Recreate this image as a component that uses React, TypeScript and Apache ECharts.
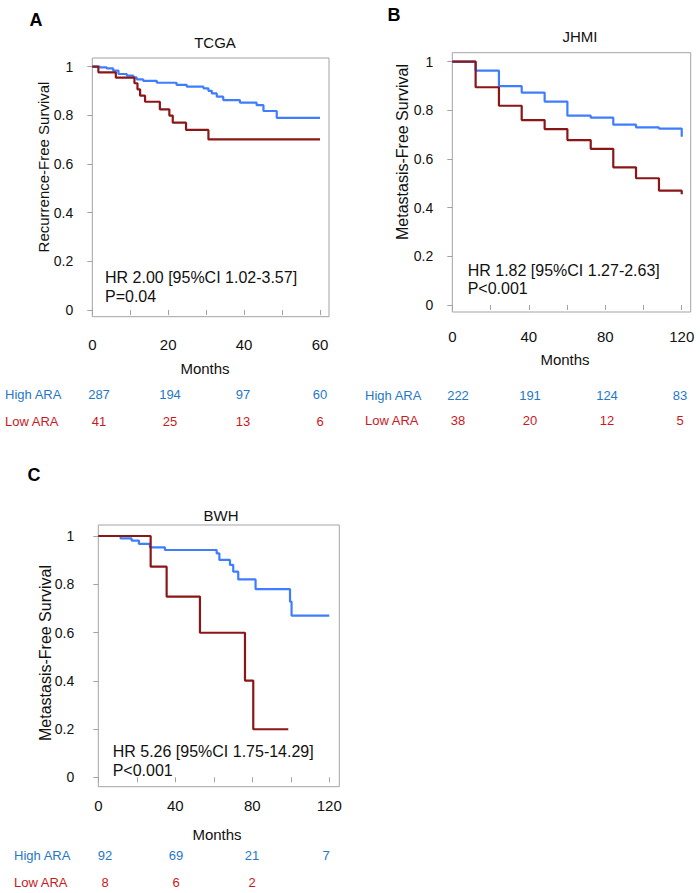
import React, { useEffect, useRef } from "react";
import * as echarts from "echarts";

// ---- data: [months, survival] step points ----
const tcgaHigh: [number, number][] = [[0, 1], [2, 0.997], [3.8, 0.993], [5.5, 0.984], [6.9, 0.97], [9.1, 0.963], [10.8, 0.956], [11.7, 0.948], [13.4, 0.942], [17, 0.934], [22.2, 0.925], [24.9, 0.918], [29.3, 0.911], [30.6, 0.901], [31.5, 0.89], [32.8, 0.877], [34.5, 0.863], [38.9, 0.852], [43.3, 0.842], [45.1, 0.818], [48.6, 0.79], [60, 0.79]];
const tcgaLow: [number, number][] = [[0, 1], [1.6, 0.977], [6.2, 0.955], [11.1, 0.932], [11.9, 0.907], [12.6, 0.881], [13.9, 0.856], [17.8, 0.825], [20.3, 0.799], [21.2, 0.77], [24.7, 0.74], [30.6, 0.701], [60, 0.701]];
const jhmiHigh: [number, number][] = [[0, 1], [12.2, 0.963], [24.4, 0.9], [36.3, 0.873], [48.3, 0.836], [60.2, 0.778], [72.4, 0.77], [84.2, 0.741], [96.1, 0.73], [108.1, 0.725], [120, 0.692]];
const jhmiLow: [number, number][] = [[0, 1], [12.2, 0.895], [24.4, 0.819], [36.3, 0.76], [48.3, 0.723], [60.2, 0.678], [72.4, 0.642], [84.2, 0.566], [96.1, 0.521], [108.1, 0.47], [120, 0.455]];
const bwhHigh: [number, number][] = [[0, 1], [11.6, 0.99], [17.3, 0.981], [21.1, 0.967], [26.8, 0.953], [34.6, 0.942], [61.5, 0.928], [62.9, 0.901], [68.4, 0.88], [70.1, 0.852], [72.7, 0.82], [81.7, 0.78], [99.6, 0.728], [100.4, 0.67], [120, 0.67]];
const bwhLow: [number, number][] = [[0, 1], [27.2, 0.873], [35.5, 0.749], [52.8, 0.599], [76.2, 0.401], [80.5, 0.199], [98.7, 0.199]];

const yTicks = [0, 0.2, 0.4, 0.6, 0.8, 1];
const tcgaXTicks = [0, 10, 20, 30, 40, 50, 60];
const tcgaXLabels = [0, 20, 40, 60];
const longXTicks = [0, 20, 40, 60, 80, 100, 120];
const longXLabels = [0, 40, 80, 120];

const tcgaRiskHigh = [287, 194, 97, 60];
const tcgaRiskLow = [41, 25, 13, 6];
const jhmiRiskHigh = [222, 191, 124, 83];
const jhmiRiskLow = [38, 20, 12, 5];
const bwhRiskHigh = [92, 69, 21, 7];
const bwhRiskLow = [8, 6, 2];

const titles = ["TCGA", "JHMI", "BWH"];
const letters = ["A", "B", "C"];
const yNames = ["Recurrence-Free Survival", "Metastasis-Free Survival", "Metastasis-Free Survival"];
const hrLines = [
  ["HR 2.00 [95%CI 1.02-3.57]", "P=0.04"],
  ["HR 1.82 [95%CI 1.27-2.63]", "P<0.001"],
  ["HR 5.26 [95%CI 1.75-14.29]", "P<0.001"],
];

// ---- styling / layout ----
const FONT = "'Liberation Sans', Arial, sans-serif";
const BLUE = "#3f7dff";
const RED = "#8b1616";
const TBLUE = "#1f78c8";
const TRED = "#c8191e";
const GRAY = "#a3a3a3";

const panels = [
  {
    grid: { left: 92.3, top: 58, width: 236.7, height: 258.7 },
    xMax: 62.37, yMin: -0.0275, yMax: 1.0358,
    xTicks: tcgaXTicks, xLabels: tcgaXLabels, xMargin: 20, yMargin: 19,
    high: tcgaHigh, low: tcgaLow,
    letter: [36, 20], title: [215, 42], yName: [43, 167, 15], hr: [105, 277, 19.7],
    months: [205, 368], riskX: [99, 170, 243, 320], riskLabelX: 5, riskY: [394, 421],
    riskHigh: tcgaRiskHigh, riskLow: tcgaRiskLow,
  },
  {
    grid: { left: 452.3, top: 52.7, width: 238.4, height: 259.3 },
    xMax: 124.7, yMin: -0.0288, yMax: 1.037,
    xTicks: longXTicks, xLabels: longXLabels, xMargin: 17, yMargin: 19,
    high: jhmiHigh, low: jhmiLow,
    letter: [394, 15], title: [580, 36], yName: [402, 152, 16], hr: [467.7, 270, 18.5],
    months: [565, 359], riskX: [458, 530, 607, 680], riskLabelX: 365, riskY: [395, 420],
    riskHigh: jhmiRiskHigh, riskLow: jhmiRiskLow,
  },
  {
    grid: { left: 98.3, top: 525, width: 241, height: 261.7 },
    xMax: 125.2, yMin: -0.039, yMax: 1.0456,
    xTicks: longXTicks, xLabels: longXLabels, xMargin: 11, yMargin: 24,
    high: bwhHigh, low: bwhLow,
    letter: [34, 475], title: [221, 515], yName: [45, 653, 16], hr: [112.7, 751, 19],
    months: [217, 834], riskX: [105, 176, 252, 326], riskLabelX: 14, riskY: [855, 882],
    riskHigh: bwhRiskHigh, riskLow: bwhRiskLow,
  },
];

function txt(text: string, x: number, y: number, size: number, fill: string, align = "center", bold = false) {
  return {
    type: "text",
    x,
    y,
    style: {
      text,
      fill,
      fontSize: size,
      fontFamily: FONT,
      fontWeight: bold ? "bold" : "normal",
      textAlign: align,
      textVerticalAlign: "middle",
    },
  };
}

export default function App() {
  const ref = useRef<HTMLDivElement>(null);
  useEffect(() => {
    if (!ref.current) return;
    const chart = echarts.init(ref.current, undefined, { renderer: "svg" });
    const grids: any[] = [];
    const xAxes: any[] = [];
    const yAxes: any[] = [];
    const series: any[] = [];
    const graphics: any[] = [];
    panels.forEach((p, i) => {
      grids.push({ ...p.grid, show: true, borderColor: GRAY, borderWidth: 1, backgroundColor: "transparent" });
      xAxes.push({
        gridIndex: i, type: "value", min: 0, max: p.xMax,
        axisLine: { show: false }, splitLine: { show: false },
        axisTick: { show: true, length: 5, customValues: p.xTicks, lineStyle: { color: GRAY } },
        axisLabel: { customValues: p.xLabels, margin: p.xMargin, fontSize: 15, color: "#111", fontFamily: FONT },
      });
      yAxes.push({
        gridIndex: i, type: "value", min: p.yMin, max: p.yMax,
        axisLine: { show: false }, splitLine: { show: false },
        axisTick: { show: true, length: 5, customValues: yTicks, lineStyle: { color: GRAY } },
        axisLabel: { customValues: yTicks, margin: p.yMargin, fontSize: 14, color: "#111", fontFamily: FONT },
      });
      series.push({
        type: "line", xAxisIndex: i, yAxisIndex: i, step: "end", data: p.high,
        showSymbol: false, symbol: "none", lineStyle: { color: BLUE, width: 2.2 }, z: 3,
      });
      series.push({
        type: "line", xAxisIndex: i, yAxisIndex: i, step: "end", data: p.low,
        showSymbol: false, symbol: "none", lineStyle: { color: RED, width: 2.2 }, z: 4,
      });
      graphics.push(txt(letters[i], p.letter[0], p.letter[1], 18, "#000", "center", true));
      graphics.push(txt(titles[i], p.title[0], p.title[1], 15, "#111"));
      graphics.push({ ...txt(yNames[i], p.yName[0], p.yName[1], p.yName[2], "#111"), rotation: Math.PI / 2 });
      graphics.push(txt(hrLines[i][0], p.hr[0], p.hr[1], 16, "#111", "left"));
      graphics.push(txt(hrLines[i][1], p.hr[0], p.hr[1] + p.hr[2], 16, "#111", "left"));
      graphics.push(txt("Months", p.months[0], p.months[1], 15, "#111"));
      graphics.push(txt("High ARA", p.riskLabelX, p.riskY[0], 13, TBLUE, "left"));
      graphics.push(txt("Low ARA", p.riskLabelX, p.riskY[1], 13, TRED, "left"));
      p.riskHigh.forEach((v, j) => graphics.push(txt(String(v), p.riskX[j], p.riskY[0], 13, TBLUE)));
      p.riskLow.forEach((v, j) => graphics.push(txt(String(v), p.riskX[j], p.riskY[1], 13, TRED)));
    });
    chart.setOption({
      animation: false,
      backgroundColor: "#fff",
      grid: grids,
      xAxis: xAxes,
      yAxis: yAxes,
      series,
      graphic: graphics,
    });
    return () => chart.dispose();
  }, []);
  return <div ref={ref} style={{ position: "fixed", left: 0, top: 0, width: 700, height: 893, background: "#fff" }} />;
}
